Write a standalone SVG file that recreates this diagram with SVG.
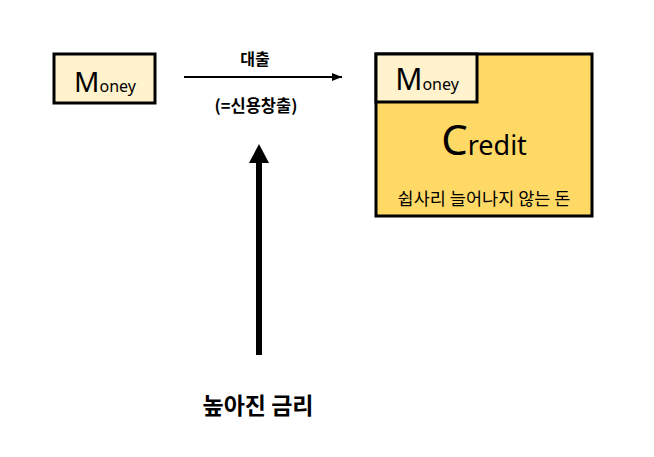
<svg xmlns="http://www.w3.org/2000/svg" width="654" height="457" viewBox="0 0 654 457">
<style>
.box{stroke:#000;stroke-width:3}
.light{fill:#FFF2CC}
.gold{fill:#FFD966}
.lat{font-family:"Noto Sans","Noto Sans CJK KR",sans-serif;fill:#000}
.kr{font-family:"Noto Sans CJK KR",sans-serif;fill:#000}
</style>
<defs>
<marker id="ah" viewBox="0 0 10 8" refX="10" refY="4" markerWidth="10" markerHeight="8" markerUnits="userSpaceOnUse" orient="auto">
<path d="M0,0 L10,4 L0,8 Z" fill="#000"/>
</marker>
</defs>
<rect width="654" height="457" fill="#fff"/>
<g id="money">
<rect class="box light" x="54" y="54" width="101" height="49"/>
<text class="lat" x="105" y="92" text-anchor="middle"><tspan font-size="28">M</tspan><tspan font-size="16">oney</tspan></text>
</g>
<g id="credit">
<rect class="box gold" x="376" y="54" width="216" height="162"/>
<rect class="box light" x="376" y="54" width="101" height="48"/>
<text class="lat" x="427" y="90" text-anchor="middle"><tspan font-size="30">M</tspan><tspan font-size="16">oney</tspan></text>
<text class="lat" x="484" y="155" text-anchor="middle"><tspan font-size="42">C</tspan><tspan font-size="27">redit</tspan></text>
<text class="kr" x="484" y="205" text-anchor="middle" font-size="17.5">쉽사리 늘어나지 않는 돈</text>
</g>
<g id="rate">
<text class="kr" x="258" y="414" text-anchor="middle" font-size="23" font-weight="bold">높아진 금리</text>
</g>
<g id="connectors">
<line x1="184" y1="77" x2="342" y2="77" stroke="#000" stroke-width="2" marker-end="url(#ah)"/>
<text class="kr" x="255" y="65" text-anchor="middle" font-size="16" font-weight="bold">대출</text>
<text class="kr" x="256" y="112" text-anchor="middle" font-size="16.5" font-weight="bold">(=신용창출)</text>
<line x1="259" y1="355" x2="259" y2="160" stroke="#000" stroke-width="6"/>
<path d="M249,163 L259,144 L269,163 Z" fill="#000"/>
</g>
</svg>
